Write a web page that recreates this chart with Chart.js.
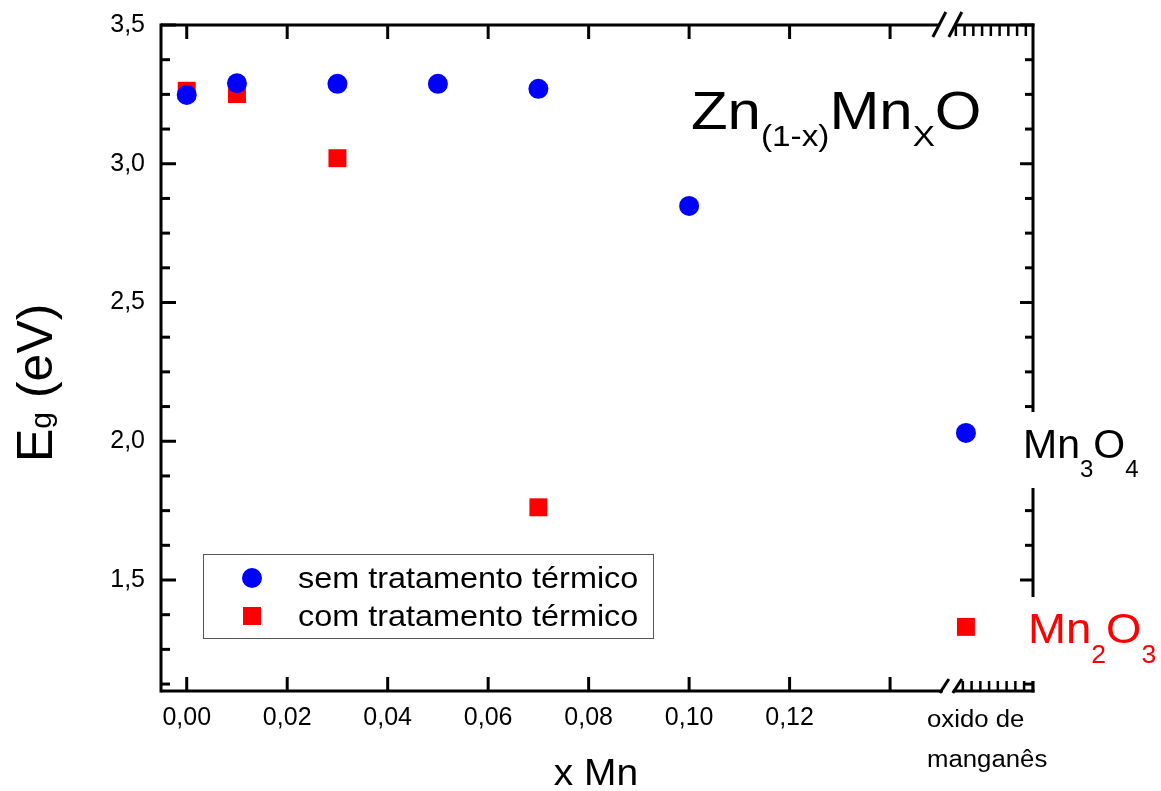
<!DOCTYPE html>
<html><head><meta charset="utf-8">
<script src="https://cdn.jsdelivr.net/npm/chart.js@4.4.1/dist/chart.umd.min.js"></script>
<style>html,body{margin:0;padding:0;background:#fff}#wrap{width:1161px;height:791px}</style>
</head><body><div id="wrap"><canvas id="c" width="1161" height="791"></canvas></div>
<script>
// ---- data ----
const X_SEM = [0.00, 0.01, 0.03, 0.05, 0.07, 0.10];
const Y_SEM = [3.248, 3.29, 3.288, 3.288, 3.27, 2.848];
const X_COM = [0.00, 0.01, 0.03, 0.07];
const Y_COM = [3.263, 3.251, 3.02, 1.762];
const OXIDE_SEM = 2.03;   // Mn3O4
const OXIDE_COM = 1.331;  // Mn2O3
const SERIES_LABELS = ['sem tratamento térmico', 'com tratamento térmico'];
const X_TICKS = [0.00, 0.02, 0.04, 0.06, 0.08, 0.10, 0.12, 0.14];
const X_TICK_LABELS = ['0,00', '0,02', '0,04', '0,06', '0,08', '0,10', '0,12', ''];
const Y_TICKS = [1.5, 2.0, 2.5, 3.0, 3.5];
const Y_TICK_LABELS = ['1,5', '2,0', '2,5', '3,0', '3,5'];
const Y_MINOR_STEP = 0.125;
const OXIDE_LABEL = ['oxido de', 'manganês'];

// ---- layout constants ----
const X_MIN = -0.00512, X_MAX = 0.16845;
const Y_MIN = 1.1, Y_MAX = 3.5;
const OXIDE_X = 0.1551;   // position of the "oxido de manganês" column
const BREAK_X = 0.1515;   // axis break position
const FONT = '"Liberation Sans", Arial, sans-serif';
const BLUE = '#0000ff', RED = '#ff0000';

function runs(ctx, x, y, list, sx) {
  let cx = x;
  for (const r of list) {
    ctx.font = r.s + 'px ' + FONT;
    ctx.fillStyle = r.c || '#000';
    ctx.save();
    ctx.translate(cx, y + (r.dy || 0));
    ctx.scale(sx || 1, 1);
    ctx.fillText(r.t, 0, 0);
    ctx.restore();
    cx += ctx.measureText(r.t).width * (sx || 1);
  }
  return cx;
}
function ln(ctx, x1, y1, x2, y2) { ctx.beginPath(); ctx.moveTo(x1, y1); ctx.lineTo(x2, y2); ctx.stroke(); }

const frame = {
  id: 'frame',
  afterDatasetsDraw(chart) {
    const { ctx, chartArea: a, scales: { x, y } } = chart;
    const L = a.left, R = a.right, T = a.top, B = a.bottom;
    const bx = x.getPixelForValue(BREAK_X);
    ctx.save();
    ctx.strokeStyle = '#000'; ctx.lineCap = 'butt';
    ctx.lineWidth = 3;
    // left / right axes
    ln(ctx, L, T - 1.5, L, B + 1.5);
    ln(ctx, R, T - 1.5, R, B + 1.5);
    // top axis with break
    ln(ctx, L, T, bx - 9, T);
    ln(ctx, bx + 8, T, R + 1.5, T);
    // bottom axis with break
    ln(ctx, L, B, bx - 5, B);
    ln(ctx, bx + 5, B, R + 1.5, B);
    // break slashes
    ln(ctx, bx - 15, T + 12, bx - 2, T - 13);
    ln(ctx, bx + 1, T + 12, bx + 14, T - 13);
    ln(ctx, bx - 8, B + 2, bx + 1, B - 12);
    ln(ctx, bx + 5, B + 2, bx + 14, B - 12);
    // x ticks
    for (const v of X_TICKS) {
      const px = x.getPixelForValue(v);
      ln(ctx, px, B, px, B - 14);
      ln(ctx, px, T, px, T + 14);
    }
    // dense minor ticks in oxide segment
    ctx.lineWidth = 2.5;
    for (let k = 0; k < 9; k++) {
      const pt = bx + 8 + k * 8.75;
      ln(ctx, pt, T, pt, T + 11);
      const pb = bx + 15 + k * 8.75;
      ln(ctx, pb, B, pb, B - 10);
    }
    // y ticks (major + minor)
    ctx.lineWidth = 3;
    const start = Math.ceil(Y_MIN / Y_MINOR_STEP) * Y_MINOR_STEP;
    for (let v = start; v <= Y_MAX + 1e-9; v += Y_MINOR_STEP) {
      const py = y.getPixelForValue(v);
      const major = Y_TICKS.some(t => Math.abs(t - v) < 1e-6);
      ln(ctx, L, py, L + (major ? 15 : 9), py);
      ln(ctx, R, py, R - (major ? 13 : 8), py);
    }
    // oxide labels (cover right axis)
    ctx.fillStyle = '#fff';
    ctx.fillRect(R - 14, 412, 130, 76);
    ctx.fillRect(R - 14, 597, 130, B - 10 - 597);
    ctx.textBaseline = 'alphabetic'; ctx.textAlign = 'left';
    runs(ctx, 1023, 458, [{ t: 'Mn', s: 41 }, { t: '3', s: 24, dy: 19 }, { t: 'O', s: 41 }, { t: '4', s: 24, dy: 19 }]);
    runs(ctx, 1028, 643, [{ t: 'Mn', s: 43, c: RED }, { t: '2', s: 25, dy: 20, c: RED }, { t: 'O', s: 43, c: RED }, { t: '3', s: 25, dy: 20, c: RED }], 1.06);
    // title
    runs(ctx, 691, 129, [{ t: 'Zn', s: 54 }, { t: '(1-x)', s: 30, dy: 17 }, { t: 'Mn', s: 54 }, { t: 'X', s: 30, dy: 17 }, { t: 'O', s: 54 }], 1.11);
    // oxide x label
    ctx.fillStyle = '#000';
    ctx.font = '23px ' + FONT;
    const ox = 927;
    ctx.save(); ctx.translate(ox, 727); ctx.scale(1.12, 1); ctx.fillText(OXIDE_LABEL[0], 0, 0); ctx.restore();
    ctx.save(); ctx.translate(ox, 767); ctx.scale(1.12, 1); ctx.fillText(OXIDE_LABEL[1], 0, 0); ctx.restore();
    // axis titles
    ctx.save();
    ctx.textAlign = 'center';
    ctx.font = '36px ' + FONT;
    ctx.translate(596, 785); ctx.scale(1.08, 1);
    ctx.fillText('x Mn', 0, 0);
    ctx.restore();
    ctx.save();
    ctx.translate(52, 462); ctx.rotate(-Math.PI / 2);
    runs(ctx, 0, 0, [{ t: 'E', s: 50 }, { t: 'g', s: 30, dy: -1 }, { t: ' (eV)', s: 50 }]);
    ctx.restore();
    // legend
    ctx.fillStyle = '#fff';
    ctx.fillRect(203.5, 554.5, 450, 84);
    ctx.lineWidth = 1; ctx.strokeStyle = '#555';
    ctx.strokeRect(203.5, 554.5, 450, 84);
    const ds = chart.data.datasets;
    ctx.fillStyle = ds[0].backgroundColor;
    ctx.beginPath(); ctx.arc(252, 578, 10, 0, Math.PI * 2); ctx.fill();
    ctx.fillStyle = ds[1].backgroundColor;
    ctx.fillRect(243, 607, 18, 18);
    ctx.fillStyle = '#000';
    ctx.font = '30px ' + FONT;
    ctx.save(); ctx.translate(298, 588); ctx.scale(1.08, 1); ctx.fillText(ds[0].label, 0, 0); ctx.restore();
    ctx.save(); ctx.translate(298, 626); ctx.scale(1.08, 1); ctx.fillText(ds[1].label, 0, 0); ctx.restore();
    ctx.restore();
  }
};

const semData = X_SEM.map((v, i) => ({ x: v, y: Y_SEM[i] })).concat([{ x: OXIDE_X, y: OXIDE_SEM }]);
const comData = X_COM.map((v, i) => ({ x: v, y: Y_COM[i] })).concat([{ x: OXIDE_X, y: OXIDE_COM }]);

new Chart(document.getElementById('c'), {
  type: 'scatter',
  data: {
    datasets: [
      { label: SERIES_LABELS[0], data: semData, pointStyle: 'circle', pointRadius: 10, backgroundColor: BLUE, borderColor: BLUE, borderWidth: 0 },
      { label: SERIES_LABELS[1], data: comData, pointStyle: 'rect', pointRadius: 12.7, backgroundColor: RED, borderColor: RED, borderWidth: 0 }
    ]
  },
  options: {
    responsive: false, animation: false,
    layout: { padding: { top: 25, right: 128, left: 0, bottom: 0 } },
    plugins: { legend: { display: false }, tooltip: { enabled: false } },
    scales: {
      x: {
        type: 'linear', min: X_MIN, max: X_MAX,
        afterBuildTicks: s => { s.ticks = X_TICKS.map(v => ({ value: v })); },
        afterFit: s => { s.height = 100; s.paddingLeft = 0; s.paddingRight = 0; },
        ticks: { callback: (v, i) => X_TICK_LABELS[i], font: { family: FONT, size: 25 }, color: '#000', padding: 12, maxRotation: 0, autoSkip: false },
        grid: { display: false, drawTicks: false }, border: { display: false }
      },
      y: {
        type: 'linear', min: Y_MIN, max: Y_MAX,
        afterBuildTicks: s => { s.ticks = Y_TICKS.map(v => ({ value: v })); },
        afterFit: s => { s.width = 161; s.paddingTop = 0; s.paddingBottom = 0; },
        ticks: { callback: (v, i) => Y_TICK_LABELS[i], font: { family: FONT, size: 25 }, color: '#000', padding: 16 },
        grid: { display: false, drawTicks: false }, border: { display: false }
      }
    }
  },
  plugins: [frame]
});
</script>
</body></html>
